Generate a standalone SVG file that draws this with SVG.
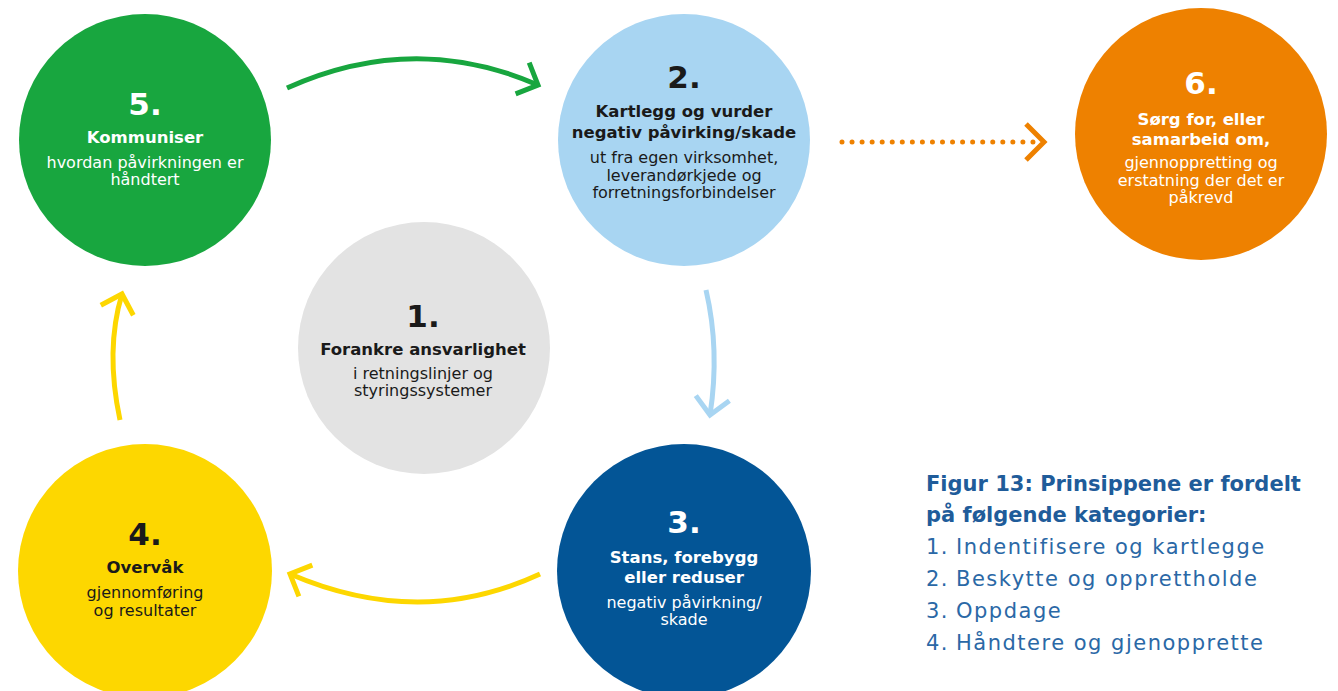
<svg xmlns="http://www.w3.org/2000/svg" width="1338" height="691" viewBox="0 0 1338 691">
<style>
  text { font-family: "DejaVu Sans", "Liberation Sans", sans-serif; text-anchor: middle; }
  .num { font-size: 31px; font-weight: bold; }
  .hd { font-size: 16.5px; font-weight: bold; }
  .sub { font-size: 16px; }
  .w { fill: #ffffff; }
  .k { fill: #1a1a1a; }
  .arrow { fill: none; stroke-width: 5; stroke-linecap: butt; }
  .legend { text-anchor: start; fill: #1f5c9a; }
  .lt { font-size: 21px; font-weight: bold; }
  .li { font-size: 21px; letter-spacing: 1.5px; fill: #2a68a6; }
</style>
<defs>
  <marker id="mGreen" viewBox="-20 -20 24 40" refX="0" refY="0" markerWidth="24" markerHeight="40" markerUnits="userSpaceOnUse" orient="auto" overflow="visible">
    <path d="M-17,-17 L0,0 L-17,17" fill="none" stroke="#18a63f" stroke-width="5"/>
  </marker>
  <marker id="mBlue" viewBox="-20 -20 24 40" refX="0" refY="0" markerWidth="24" markerHeight="40" markerUnits="userSpaceOnUse" orient="auto" overflow="visible">
    <path d="M-17,-17 L0,0 L-17,17" fill="none" stroke="#a8d5f2" stroke-width="5"/>
  </marker>
  <marker id="mYellow" viewBox="-20 -20 24 40" refX="0" refY="0" markerWidth="24" markerHeight="40" markerUnits="userSpaceOnUse" orient="auto" overflow="visible">
    <path d="M-17,-17 L0,0 L-17,17" fill="none" stroke="#fdd700" stroke-width="5"/>
  </marker>
  <marker id="mOrange" viewBox="-20 -20 24 40" refX="0" refY="0" markerWidth="24" markerHeight="40" markerUnits="userSpaceOnUse" orient="auto" overflow="visible">
    <path d="M-18,-18 L0,0 L-18,18" fill="none" stroke="#ee8100" stroke-width="5"/>
  </marker>
</defs>
<rect width="1338" height="691" fill="#ffffff"/>

<g id="connectors">
  <path class="arrow" d="M287,88 Q414,31 538,85" stroke="#18a63f" marker-end="url(#mGreen)"/>
  <path class="arrow" d="M706,290 Q720,350 710,415" stroke="#a8d5f2" marker-end="url(#mBlue)"/>
  <path class="arrow" d="M540,574 Q420,630 290,574" stroke="#fdd700" marker-end="url(#mYellow)"/>
  <path class="arrow" d="M120,420 Q105,350 122,294" stroke="#fdd700" marker-end="url(#mYellow)"/>
  <path d="M842,142 L1033,142" fill="none" stroke="#ee8100" stroke-width="5" stroke-linecap="round" stroke-dasharray="0 10.05"/>
  <path class="arrow" d="M1033,142 L1044,142" stroke="#ee8100" stroke-opacity="0" marker-end="url(#mOrange)"/>
</g>

<g id="node5">
  <circle cx="145" cy="140" r="126" fill="#18a63f"/>
  <text class="num w" x="145" y="115">5.</text>
  <text class="hd w" x="145" y="143">Kommuniser</text>
  <text class="sub w" x="145" y="168">hvordan påvirkningen er</text>
  <text class="sub w" x="145" y="185">håndtert</text>
</g>

<g id="node2">
  <circle cx="684" cy="140" r="126" fill="#a8d5f2"/>
  <text class="num k" x="684" y="88">2.</text>
  <text class="hd k" x="684" y="117">Kartlegg og vurder</text>
  <text class="hd k" x="684" y="138">negativ påvirking/skade</text>
  <text class="sub k" x="684" y="163">ut fra egen virksomhet,</text>
  <text class="sub k" x="684" y="181">leverandørkjede og</text>
  <text class="sub k" x="684" y="198">forretningsforbindelser</text>
</g>

<g id="node6">
  <circle cx="1201" cy="134" r="126" fill="#ee8100"/>
  <text class="num w" x="1201" y="94">6.</text>
  <text class="hd w" x="1201" y="125">Sørg for, eller</text>
  <text class="hd w" x="1201" y="145">samarbeid om,</text>
  <text class="sub w" x="1201" y="168">gjennoppretting og</text>
  <text class="sub w" x="1201" y="186">erstatning der det er</text>
  <text class="sub w" x="1201" y="203">påkrevd</text>
</g>

<g id="node1">
  <circle cx="424" cy="348" r="126" fill="#e3e3e3"/>
  <text class="num k" x="423" y="327">1.</text>
  <text class="hd k" x="423" y="355">Forankre ansvarlighet</text>
  <text class="sub k" x="423" y="379">i retningslinjer og</text>
  <text class="sub k" x="423" y="396">styringssystemer</text>
</g>

<g id="node4">
  <circle cx="145" cy="571" r="127" fill="#fdd700"/>
  <text class="num k" x="145" y="545">4.</text>
  <text class="hd k" x="145" y="573">Overvåk</text>
  <text class="sub k" x="145" y="598">gjennomføring</text>
  <text class="sub k" x="145" y="616">og resultater</text>
</g>

<g id="node3">
  <circle cx="684" cy="571" r="127" fill="#035596"/>
  <text class="num w" x="684" y="533">3.</text>
  <text class="hd w" x="684" y="563">Stans, forebygg</text>
  <text class="hd w" x="684" y="583">eller reduser</text>
  <text class="sub w" x="684" y="608">negativ påvirkning/</text>
  <text class="sub w" x="684" y="625">skade</text>
</g>

<g id="legend">
  <text class="legend lt" x="926" y="491">Figur 13: Prinsippene er fordelt</text>
  <text class="legend lt" x="926" y="522">på følgende kategorier:</text>
  <text class="legend li" y="554"><tspan x="926">1.</tspan><tspan x="956">Indentifisere og kartlegge</tspan></text>
  <text class="legend li" y="586"><tspan x="926">2.</tspan><tspan x="956">Beskytte og opprettholde</tspan></text>
  <text class="legend li" y="618"><tspan x="926">3.</tspan><tspan x="956">Oppdage</tspan></text>
  <text class="legend li" y="650"><tspan x="926">4.</tspan><tspan x="956">Håndtere og gjenopprette</tspan></text>
</g>
</svg>
